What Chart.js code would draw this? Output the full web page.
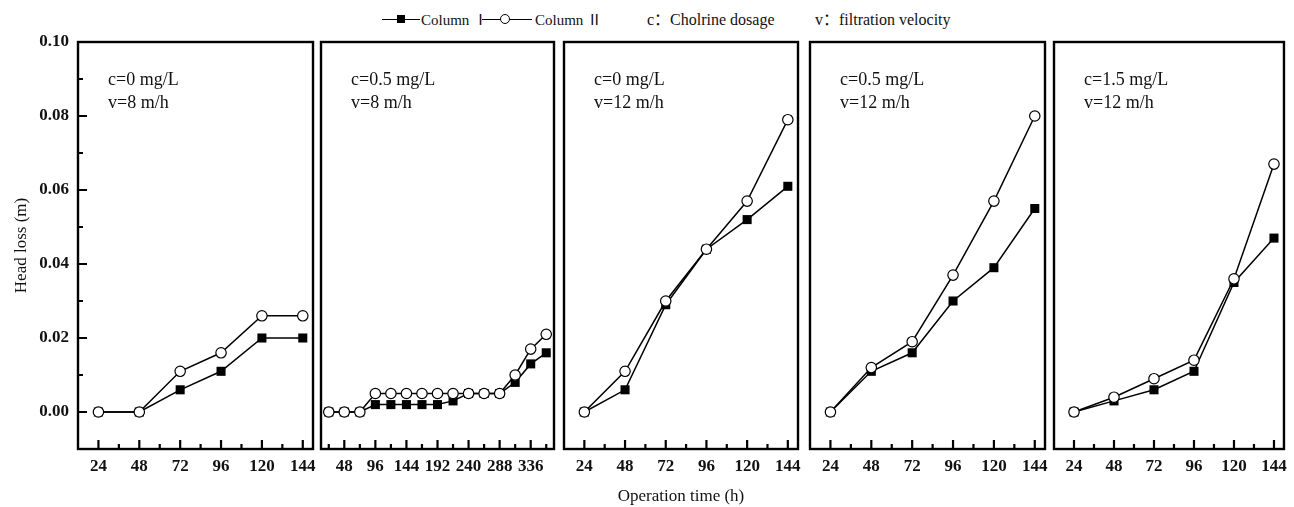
<!DOCTYPE html>
<html>
<head>
<meta charset="utf-8">
<script src="https://cdn.jsdelivr.net/npm/chart.js@4.4.1/dist/chart.umd.min.js"></script>
<style>
  body { margin: 0; background: #fff; width: 1294px; height: 507px; position: relative; overflow: hidden;
         font-family: "Liberation Serif", "Noto Sans CJK SC", serif; color: #111; }
  canvas { position: absolute; }
  .leg { position: absolute; top: 10px; font-size: 15px; line-height: 20px; white-space: nowrap; }
  .leg2 { position: absolute; top: 10px; font-size: 16px; line-height: 20px; white-space: nowrap; }
  .ln { position: absolute; top: 19px; height: 0; border-top: 1.6px solid #000; }
  .sq { position: absolute; top: 15px; width: 8px; height: 8px; background: #000; }
  .ci { position: absolute; top: 14px; width: 8px; height: 8px; background: #fff; border: 1.2px solid #000; border-radius: 50%; }
</style>
</head>
<body>
<div class="ln" style="left:382px;width:38px"></div>
<div class="sq" style="left:397px"></div>
<div class="leg" style="left:421px">Column Ⅰ</div>
<div class="ln" style="left:482px;width:50px"></div>
<div class="ci" style="left:500px"></div>
<div class="leg" style="left:535px">Column Ⅱ</div>
<div class="leg2" style="left:647px">c：Cholrine dosage</div>
<div class="leg2" style="left:815px">v：filtration velocity</div>

<canvas id="c1"></canvas>
<canvas id="c2"></canvas>
<canvas id="c3"></canvas>
<canvas id="c4"></canvas>
<canvas id="c5"></canvas>

<script>
// operation time (h)
const hoursShort = [24, 48, 72, 96, 120, 144];
const hoursLong = [24, 48, 72, 96, 120, 144, 168, 192, 216, 240, 264, 288, 312, 336, 360];

// tick labels
const shortMajor = [24, 48, 72, 96, 120, 144];
const shortMinor = [36, 60, 84, 108, 132];
const longMajor = [48, 96, 144, 192, 240, 288, 336];
const longMinor = [24, 72, 120, 168, 216, 264, 312, 360];
const yMajor = [0, 0.02, 0.04, 0.06, 0.08, 0.10];
const yMinor = [-0.01, 0.01, 0.03, 0.05, 0.07, 0.09];

// head loss (m)
const p1ColI  = [0, 0, 0.006, 0.011, 0.020, 0.020];
const p1ColII = [0, 0, 0.011, 0.016, 0.026, 0.026];
const p2ColI  = [0, 0, 0, 0.002, 0.002, 0.002, 0.002, 0.002, 0.003, 0.005, 0.005, 0.005, 0.008, 0.013, 0.016];
const p2ColII = [0, 0, 0, 0.005, 0.005, 0.005, 0.005, 0.005, 0.005, 0.005, 0.005, 0.005, 0.010, 0.017, 0.021];
const p3ColI  = [0, 0.006, 0.029, 0.044, 0.052, 0.061];
const p3ColII = [0, 0.011, 0.030, 0.044, 0.057, 0.079];
const p4ColI  = [0, 0.011, 0.016, 0.030, 0.039, 0.055];
const p4ColII = [0, 0.012, 0.019, 0.037, 0.057, 0.080];
const p5ColI  = [0, 0.003, 0.006, 0.011, 0.035, 0.047];
const p5ColII = [0, 0.004, 0.009, 0.014, 0.036, 0.067];

const notes = [
  ['c=0 mg/L', 'v=8 m/h'],
  ['c=0.5 mg/L', 'v=8 m/h'],
  ['c=0 mg/L', 'v=12 m/h'],
  ['c=0.5 mg/L', 'v=12 m/h'],
  ['c=1.5 mg/L', 'v=12 m/h']
];

const SERIF = '"Liberation Serif", "Times New Roman", serif';

// frame, inward ticks and the c / v note of each panel
const framePlugin = {
  id: 'frame',
  afterDatasetsDraw(chart, args, opts) {
    const { ctx, chartArea: a } = chart;
    const x = chart.scales.x, y = chart.scales.y;
    ctx.save();
    ctx.strokeStyle = '#000';
    ctx.lineWidth = 2.4;
    ctx.strokeRect(a.left, a.top, a.right - a.left, a.bottom - a.top);
    ctx.lineWidth = 2.2;
    ctx.beginPath();
    opts.xMajor.forEach(v => { const p = x.getPixelForValue(v); ctx.moveTo(p, a.bottom); ctx.lineTo(p, a.bottom - 9); });
    opts.xMinor.forEach(v => { const p = x.getPixelForValue(v); ctx.moveTo(p, a.bottom); ctx.lineTo(p, a.bottom - 5); });
    if (opts.yTicks) {
      yMajor.forEach(v => { const p = y.getPixelForValue(v); ctx.moveTo(a.left, p); ctx.lineTo(a.left + 9, p); });
      yMinor.forEach(v => { const p = y.getPixelForValue(v); ctx.moveTo(a.left, p); ctx.lineTo(a.left + 5, p); });
    }
    ctx.stroke();
    ctx.fillStyle = '#111';
    ctx.font = '18px ' + SERIF;
    ctx.textBaseline = 'middle';
    opts.note.forEach((t, i) => ctx.fillText(t, a.left + 30, a.top + 38 + i * 23));
    ctx.restore();
  }
};

function toXY(xs, ys) {
  return ys.map((v, i) => ({ x: xs[i], y: v }));
}

function makePanel(id, box, xs, colI, colII, xMax, major, minor, note, first, xTitle) {
  const canvas = document.getElementById(id);
  canvas.width = box.w;
  canvas.height = 487;
  canvas.style.left = box.left + 'px';
  canvas.style.top = '20px';

  new Chart(canvas, {
    type: 'line',
    data: {
      datasets: [
        {
          label: 'Column Ⅰ',
          data: toXY(xs, colI),
          order: 1,
          borderColor: '#000',
          borderWidth: 1.5,
          pointStyle: 'rect',
          pointRadius: 6.4,
          pointBackgroundColor: '#000',
          pointBorderColor: '#000',
          pointBorderWidth: 0,
          tension: 0
        },
        {
          label: 'Column Ⅱ',
          data: toXY(xs, colII),
          order: 0,
          borderColor: '#000',
          borderWidth: 1.5,
          pointStyle: 'circle',
          pointRadius: 5.2,
          pointBackgroundColor: '#fff',
          pointBorderColor: '#000',
          pointBorderWidth: 1.2,
          tension: 0
        }
      ]
    },
    options: {
      responsive: false,
      animation: false,
      clip: false,
      layout: { padding: { left: box.padL, right: box.padR, top: 22, bottom: 0 } },
      plugins: {
        legend: { display: false },
        tooltip: { enabled: false },
        frame: { xMajor: major, xMinor: minor, yTicks: first, note: note }
      },
      scales: {
        x: {
          type: 'linear',
          min: 12,
          max: xMax,
          grid: { display: false, drawTicks: false },
          border: { display: false },
          afterBuildTicks: s => { s.ticks = major.map(v => ({ value: v })); },
          afterFit: s => { s.height = 58; },
          ticks: { padding: 7, color: '#111', maxRotation: 0, autoSkip: false,
                   font: { family: SERIF, size: 17, weight: 'bold' } },
          title: { display: !!xTitle, text: xTitle || '', color: '#111', padding: 0,
                   font: { family: SERIF, size: 17 } }
        },
        y: {
          display: first,
          min: -0.01,
          max: 0.10,
          grid: { display: false, drawTicks: false },
          border: { display: false },
          afterBuildTicks: s => { s.ticks = yMajor.map(v => ({ value: v })); },
          afterFit: s => { s.width = first ? 78 : 0; },
          ticks: { padding: 9, color: '#111', callback: v => v.toFixed(2),
                   font: { family: SERIF, size: 17, weight: 'bold' } },
          title: { display: true, text: 'Head loss (m)', color: '#111', padding: { top: 11, bottom: 0 },
                   font: { family: SERIF, size: 17 } }
        }
      }
    },
    plugins: [framePlugin]
  });
}

makePanel('c1', { left: 0, w: 328, padL: 0, padR: 15 }, hoursShort, p1ColI, p1ColII, 150, shortMajor, shortMinor, notes[0], true);
makePanel('c2', { left: 306, w: 263, padL: 15, padR: 15 }, hoursLong, p2ColI, p2ColII, 372, longMajor, longMinor, notes[1], false);
makePanel('c3', { left: 549, w: 264, padL: 15, padR: 15 }, hoursShort, p3ColI, p3ColII, 150, shortMajor, shortMinor, notes[2], false, 'Operation time (h)');
makePanel('c4', { left: 795, w: 265, padL: 15, padR: 15 }, hoursShort, p4ColI, p4ColII, 150, shortMajor, shortMinor, notes[3], false);
makePanel('c5', { left: 1039, w: 255, padL: 15, padR: 6 }, hoursShort, p5ColI, p5ColII, 150, shortMajor, shortMinor, notes[4], false);
</script>
</body>
</html>
